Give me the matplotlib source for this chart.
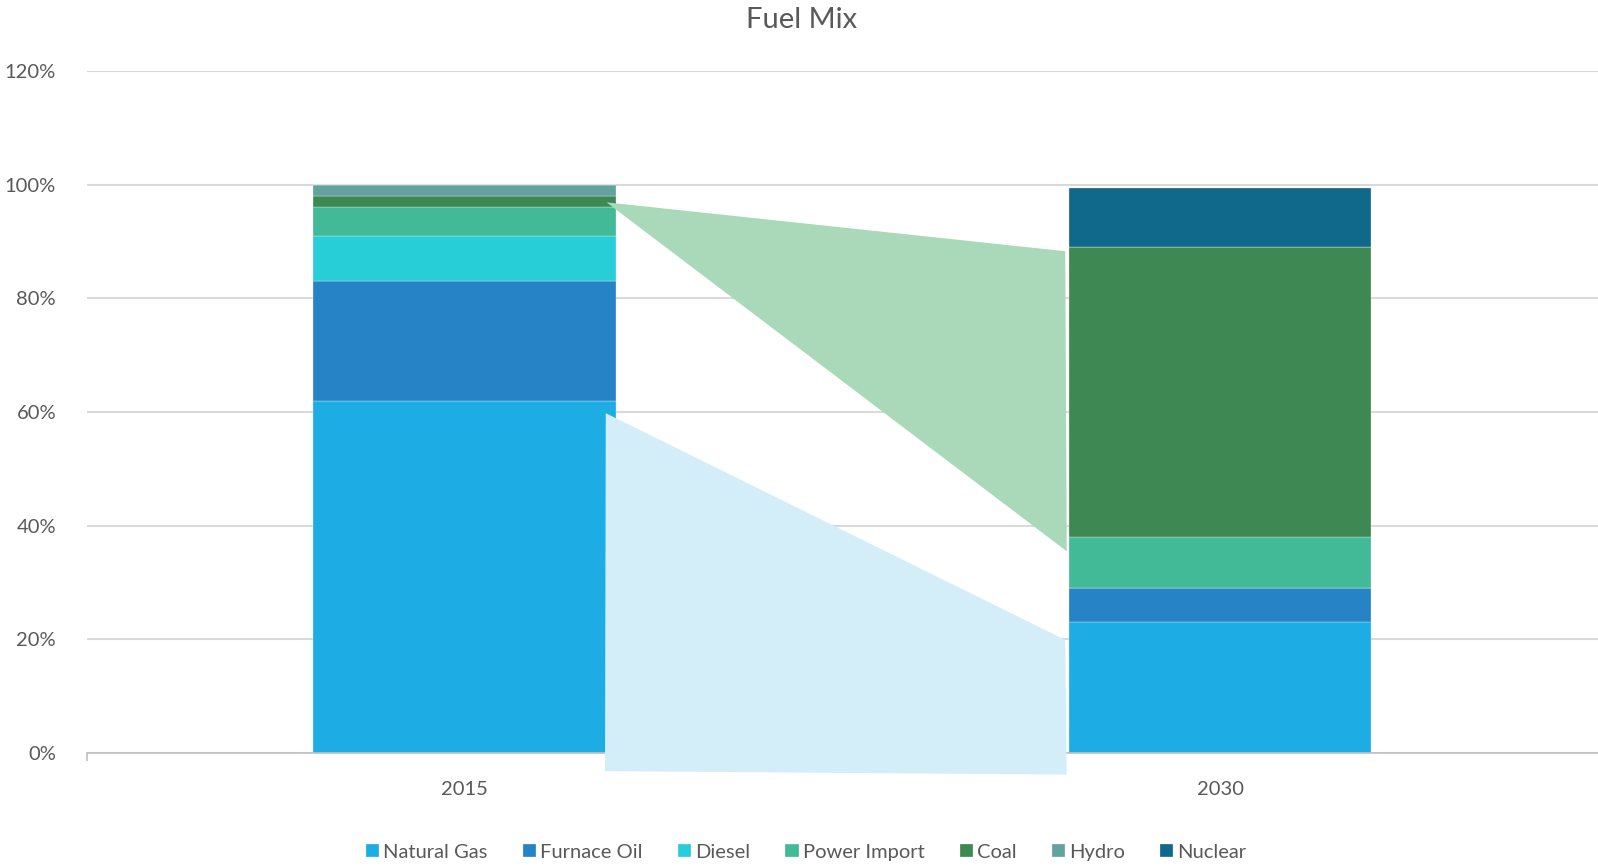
import numpy as np
import matplotlib.pyplot as plt
from matplotlib.patches import Polygon

plt.rcParams['font.family'] = ['Lato', 'DejaVu Sans']

years = ['2015', '2030']
fuels = ['Natural Gas', 'Furnace Oil', 'Diesel', 'Power Import', 'Coal', 'Hydro', 'Nuclear']
share_2015 = [62, 21, 8, 5, 2, 2, 0]
share_2030 = [23, 6, 0, 9, 51, 0, 10.5]
colors = ['#1DACE3', '#2683C6', '#27CED7', '#42BA97', '#3E8853', '#62A39F', '#10688A']

grey = '#595959'
fig = plt.figure(figsize=(15.98, 8.67), dpi=100)
ax = fig.add_axes([0.0542, 0.1315, 0.9458, 0.7865])

x = np.arange(len(years))
width = 0.4
vals = np.array([share_2015, share_2030]) / 100.0
bottom = np.zeros(len(years))
for i, name in enumerate(fuels):
    ax.bar(x, vals[:, i], width, bottom=bottom, color=colors[i], label=name, zorder=2,
           edgecolor='white', linewidth=0.2)
    bottom += vals[:, i]

# shaded "flow" shapes between the two bars
cum = np.cumsum(vals, axis=1)
lx = x[0] + width / 2 - 0.012
rx = x[1] - width / 2 - 0.005
green = [(lx, cum[0, 3] + 0.009), (rx, cum[1, 4] - 0.007), (rx + 0.002, cum[1, 3] - 0.025)]
blue = [(lx - 0.001, cum[0, 0] - 0.022), (rx, cum[1, 0] - 0.031),
        (rx + 0.002, -0.038), (lx - 0.002, -0.032)]
ax.add_patch(Polygon(green, closed=True, facecolor='#A9D9B8', edgecolor='none',
                     zorder=5, clip_on=False))
ax.add_patch(Polygon(blue, closed=True, facecolor='#D4EEF9', edgecolor='none',
                     zorder=5, clip_on=False))

ax.set_xlim(-0.5, 1.5)
ax.set_ylim(0, 1.2)
ax.set_yticks(np.arange(0, 1.21, 0.2))
ax.set_yticklabels([f'{int(round(v * 100))}%' for v in np.arange(0, 1.21, 0.2)])
ax.yaxis.grid(True, color='#D9D9D9', linewidth=1.5, zorder=0)
ax.set_axisbelow(True)
ax.set_xticks(x)
ax.set_xticklabels(years)
ax.set_xticks([-0.5, 0.5], minor=True)
ax.tick_params(axis='x', which='major', length=0, pad=20, labelsize=14.5, labelcolor=grey)
ax.tick_params(axis='x', which='minor', length=6, color='#BFBFBF', width=1.2)
ax.tick_params(axis='y', length=0, pad=22, labelsize=14.5, labelcolor=grey)
for s in ['top', 'right', 'left']:
    ax.spines[s].set_visible(False)
ax.spines['bottom'].set_color('#BFBFBF')
ax.spines['bottom'].set_linewidth(1.2)

fig.text(0.5015, 0.977, 'Fuel Mix', ha='center', va='center', fontsize=21, color=grey)

fig.legend(loc='center', bbox_to_anchor=(0.5045, 0.017), ncol=7, frameon=False,
           fontsize=14.5, labelcolor=grey, handlelength=0.65, handleheight=0.65,
           handletextpad=0.2, columnspacing=1.75)

fig.savefig('out.png', dpi=100)
